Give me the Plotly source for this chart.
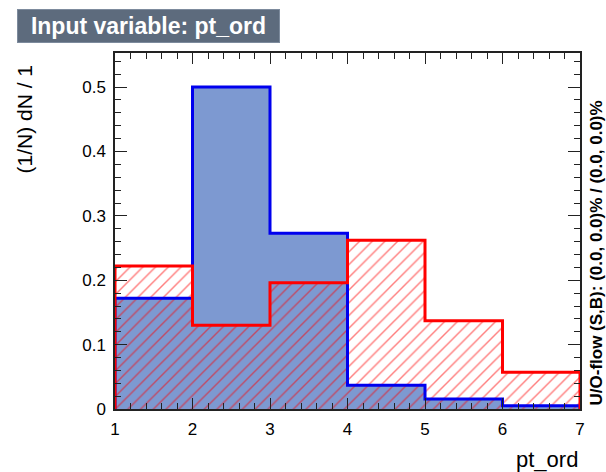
import plotly.graph_objects as go

# Histogram content: normalised bin heights for pt_ord
bin_edges = [1, 2, 3, 4, 5, 6, 7]
signal = [0.172, 0.500, 0.273, 0.037, 0.0155, 0.005]
background = [0.222, 0.130, 0.196, 0.262, 0.137, 0.057]

x_ticks = [1, 2, 3, 4, 5, 6, 7]
y_ticks = [0, 0.1, 0.2, 0.3, 0.4, 0.5]
y_tick_text = ["0", "0.1", "0.2", "0.3", "0.4", "0.5"]

FONT = "Liberation Sans"
W, H = 606, 472
L, R, T, B = 115, 26, 53, 63


def centers(edges):
    return [(a + b) / 2 for a, b in zip(edges[:-1], edges[1:])]


def widths(edges):
    return [b - a for a, b in zip(edges[:-1], edges[1:])]


def step_outline(edges, vals):
    xs, ys = [edges[0]], [0]
    for i, v in enumerate(vals):
        xs += [edges[i], edges[i + 1]]
        ys += [v, v]
    xs.append(edges[-1])
    ys.append(0)
    return xs, ys


def px_x(p):
    return (p - L) / (W - L - R)


def px_y(p):
    return (H - B - p) / (H - T - B)


fig = go.Figure()

# signal: solid fill
fig.add_trace(go.Bar(
    x=centers(bin_edges), y=signal, width=widths(bin_edges),
    marker=dict(color="#7d99d1", line=dict(width=0)),
    hoverinfo="skip", showlegend=False,
))
# background: red hatch
fig.add_trace(go.Bar(
    x=centers(bin_edges), y=background, width=widths(bin_edges),
    marker=dict(color="rgba(0,0,0,0)", line=dict(width=0),
                pattern=dict(shape="/", fgcolor="#ff0000", size=9,
                             solidity=0.16, fillmode="overlay")),
    hoverinfo="skip", showlegend=False,
))

sx, sy = step_outline(bin_edges, signal)
fig.add_trace(go.Scatter(x=sx, y=sy, mode="lines",
                         line=dict(color="#0000ee", width=3),
                         hoverinfo="skip", showlegend=False))
bx, by = step_outline(bin_edges, background)
fig.add_trace(go.Scatter(x=bx, y=by, mode="lines",
                         line=dict(color="#ff0000", width=3),
                         hoverinfo="skip", showlegend=False))

axis_common = dict(
    showline=True, linecolor="#222222", linewidth=1.5, mirror="ticks",
    ticks="inside", tickcolor="#222222", tickwidth=1.3,
    showgrid=False, zeroline=False,
    tickfont=dict(family=FONT, size=17, color="black"),
)

fig.update_xaxes(
    range=[1, 7], tickvals=x_ticks, ticklen=11, ticklabelstandoff=4,
    minor=dict(dtick=0.2, ticks="inside", ticklen=6, tickcolor="#222222",
               tickwidth=1.2, showgrid=False),
    **axis_common,
)
fig.update_yaxes(
    range=[0, 0.553], tickvals=y_ticks, ticktext=y_tick_text, ticklen=12,
    ticklabelstandoff=4,
    minor=dict(dtick=0.02, ticks="inside", ticklen=6, tickcolor="#222222",
               tickwidth=1.2, showgrid=False),
    **axis_common,
)

annotations = [
    dict(text="<b>Input variable: pt_ord</b>", xref="paper", yref="paper",
         x=px_x(17), y=px_y(9), xanchor="left", yanchor="top",
         width=261, height=32, borderpad=0, align="center",
         bgcolor="#5d6b7d", bordercolor="#7d8b9d", borderwidth=1,
         font=dict(family=FONT, size=23, color="white"), showarrow=False),
    dict(text="(1/N) dN / 1", xref="paper", yref="paper",
         x=px_x(24), y=px_y(63), xanchor="center", yanchor="top",
         textangle=-90, font=dict(family=FONT, size=21, color="black"),
         showarrow=False),
    dict(text="pt_ord", xref="paper", yref="paper",
         x=1, y=px_y(459), xanchor="right", yanchor="middle",
         font=dict(family=FONT, size=22, color="black"), showarrow=False),
    dict(text="<b>U/O-flow (S,B): (0.0, 0.0)% / (0.0, 0.0)%</b>",
         xref="paper", yref="paper",
         x=px_x(596), y=px_y(408), xanchor="center", yanchor="bottom",
         textangle=-90, font=dict(family=FONT, size=17, color="black"),
         showarrow=False),
]

fig.update_layout(
    width=W, height=H,
    margin=dict(l=L, r=R, t=T, b=B, pad=0),
    barmode="overlay", bargap=0,
    paper_bgcolor="white", plot_bgcolor="white",
    annotations=annotations,
)

fig.write_html("out.html")
